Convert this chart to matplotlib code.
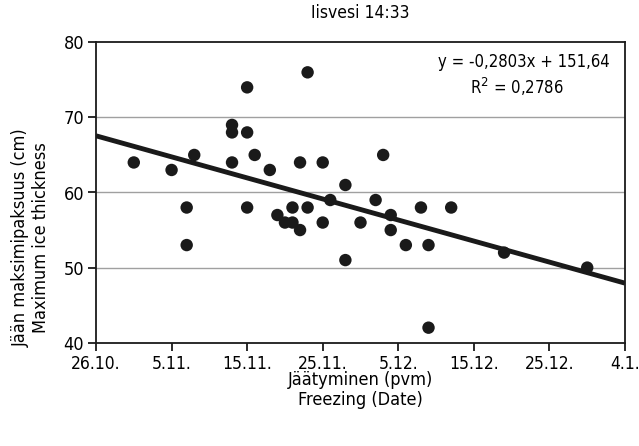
import matplotlib
matplotlib.use("Agg")
import matplotlib.pyplot as plt
from matplotlib import font_manager
import numpy as np

# Freezing day (day-of-year, January continuing past 366) and maximum ice thickness (cm)
freeze_day = [305, 310, 313, 312, 312, 318, 318, 318, 320, 320, 320, 321, 323,
              328, 327, 330, 324, 326, 328, 325, 326, 327, 330, 331, 333, 333,
              335, 338, 337, 339, 339, 343, 347, 341, 344, 354, 344, 365]
ice_cm = [64, 63, 65, 58, 53, 69, 68, 64, 74, 68, 58, 65, 63,
          76, 64, 64, 57, 58, 58, 56, 56, 55, 56, 59, 61, 51,
          56, 65, 59, 57, 55, 58, 58, 53, 53, 52, 42, 50]

tick_days = [300, 310, 320, 330, 340, 350, 360, 370]
tick_labels = ["26.10.", "5.11.", "15.11.", "25.11.", "5.12.", "15.12.", "25.12.", "4.1."]

slope, intercept = -0.2803, 151.64
r2 = 0.2786

# Prefer a condensed face for the narrow lettering
names = {f.name for f in font_manager.fontManager.ttflist}
condensed = [f for f in font_manager.fontManager.ttflist
             if f.name == "DejaVu Sans" and f.stretch == "condensed" and f.weight == 400
             and f.style == "normal"]
if "Liberation Sans Narrow" in names:
    fp = font_manager.FontProperties(family="Liberation Sans Narrow")
elif condensed:
    fp = font_manager.FontProperties(fname=condensed[0].fname)
else:
    fp = font_manager.FontProperties(family="DejaVu Sans", stretch="condensed")


def font(size):
    p = fp.copy()
    p.set_size(size)
    return p


fig = plt.figure(figsize=(6.39, 4.46), dpi=100)
ax = fig.add_axes([96 / 639, 1 - 342.7 / 446, (625 - 96) / 639, (342.7 - 42.3) / 446])

ax.set_xlim(300, 370)
ax.set_ylim(40, 80)
ax.set_xticks(tick_days)
ax.set_xticklabels(tick_labels, fontproperties=font(12.5))
ax.set_yticks([40, 50, 60, 70, 80])
ax.set_yticklabels(["40", "50", "60", "70", "80"], fontproperties=font(13))

for v in [50, 60, 70]:
    ax.axhline(v, color="#a0a0a0", lw=1.0, zorder=1)

ax.scatter(freeze_day, ice_cm, s=80, color="#1a1a1a", edgecolors="none", zorder=3)

xs = np.array([300, 370])
ax.plot(xs, slope * xs + intercept, color="#1a1a1a", lw=3.5, zorder=4,
        solid_capstyle="butt")

for s in ax.spines.values():
    s.set_linewidth(1.3)
    s.set_color("#1a1a1a")
ax.tick_params(axis="both", direction="out", length=6, width=1.3,
               color="#1a1a1a", pad=2.5)

ax.text(0.97, 0.935, "y = -0,2803x + 151,64", transform=ax.transAxes,
        ha="right", va="center", fontproperties=font(12))
ax.text(0.885, 0.85, "R$^2$ = 0,2786", transform=ax.transAxes,
        ha="right", va="center", fontproperties=font(12))

fig.text(360 / 639, 1 - 13 / 446, "Iisvesi 14:33", ha="center", va="center",
         fontproperties=font(12.5))
fig.text(360 / 639, 1 - 390 / 446, "Jäätyminen (pvm)\nFreezing (Date)",
         ha="center", va="center", fontproperties=font(13), linespacing=1.15)
fig.text(31 / 639, 1 - 238 / 446, "Jään maksimipaksuus (cm)\nMaximum ice thickness",
         ha="center", va="center", rotation=90, fontproperties=font(13),
         linespacing=1.1)

fig.savefig("out.png", dpi=100)
